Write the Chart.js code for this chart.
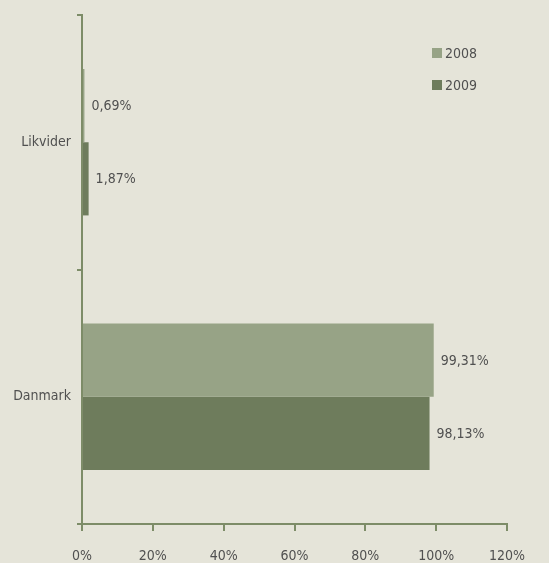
<!DOCTYPE html>
<html>
<head>
<meta charset="utf-8">
<script src="https://cdn.jsdelivr.net/npm/chart.js@4"></script>
<style>
  html, body { margin: 0; padding: 0; background: #e5e4d9; }
  #wrap { width: 549px; height: 563px; position: relative; }
</style>
</head>
<body>
<div id="wrap"><canvas id="c"></canvas></div>
<script>
const categories = ["Likvider", "Danmark"];
const seriesNames = ["2008", "2009"];
const values2008 = [0.69, 99.31];
const values2009 = [1.87, 98.13];
const xTicks = [0, 20, 40, 60, 80, 100, 120];

const colors = ["#97a386", "#6e7c5c"];
const axisColor = "#7d8c68";
const textColor = "#505050";
const fontFamily = "'DejaVu Sans Condensed', 'Liberation Sans Narrow', 'Roboto', sans-serif";

function fmt(v) { return v.toFixed(2).replace('.', ',') + '%'; }

const labelPlugin = {
  id: 'barLabels',
  afterDatasetsDraw(chart) {
    const ctx = chart.ctx;
    ctx.save();
    ctx.font = "14px " + fontFamily;
    ctx.fillStyle = textColor;
    ctx.textAlign = 'left';
    ctx.textBaseline = 'middle';
    chart.data.datasets.forEach((ds, di) => {
      const meta = chart.getDatasetMeta(di);
      meta.data.forEach((bar, i) => {
        ctx.fillText(fmt(ds.data[i]), bar.x + 7, bar.y + 1);
      });
    });
    ctx.restore();
  }
};

const legendPlugin = {
  id: 'customLegend',
  afterDraw(chart) {
    const ctx = chart.ctx;
    ctx.save();
    ctx.font = "14px " + fontFamily;
    ctx.textBaseline = 'middle';
    ctx.textAlign = 'left';
    chart.data.datasets.forEach((ds, di) => {
      const y = 53 + di * 32;
      ctx.fillStyle = ds.backgroundColor;
      ctx.fillRect(432, y - 5, 10, 10);
      ctx.fillStyle = textColor;
      ctx.fillText(ds.label, 445, y + 1);
    });
    ctx.restore();
  }
};

new Chart(document.getElementById('c'), {
  type: 'bar',
  data: {
    labels: categories,
    datasets: [
      { label: seriesNames[0], data: values2008, backgroundColor: colors[0] },
      { label: seriesNames[1], data: values2009, backgroundColor: colors[1] }
    ]
  },
  options: {
    indexAxis: 'y',
    responsive: true,
    maintainAspectRatio: false,
    animation: false,
    devicePixelRatio: 1,
    layout: { padding: { top: 15, right: 42, left: 0, bottom: 0 } },
    plugins: { legend: { display: false }, tooltip: { enabled: false } },
    datasets: { bar: { categoryPercentage: 0.575, barPercentage: 1.0 } },
    scales: {
      x: {
        min: 0, max: 120,
        afterBuildTicks(scale) { scale.ticks = xTicks.map(v => ({ value: v })); },
        afterFit(scale) { scale.height = 39; },
        border: { display: true, color: axisColor, width: 2 },
        grid: { drawOnChartArea: false, drawTicks: true, tickLength: 7, color: axisColor, lineWidth: 2 },
        ticks: {
          color: textColor,
          font: { family: fontFamily, size: 14 },
          padding: 17,
          maxRotation: 0,
          callback: v => v + '%'
        }
      },
      y: {
        afterFit(scale) { scale.width = 82; },
        border: { display: true, color: axisColor, width: 2 },
        grid: { drawOnChartArea: false, drawTicks: true, tickLength: 5, color: axisColor, lineWidth: 2, offset: true },
        ticks: {
          color: textColor,
          font: { family: fontFamily, size: 14 },
          padding: 6
        }
      }
    }
  },
  plugins: [labelPlugin, legendPlugin]
});
</script>
</body>
</html>
